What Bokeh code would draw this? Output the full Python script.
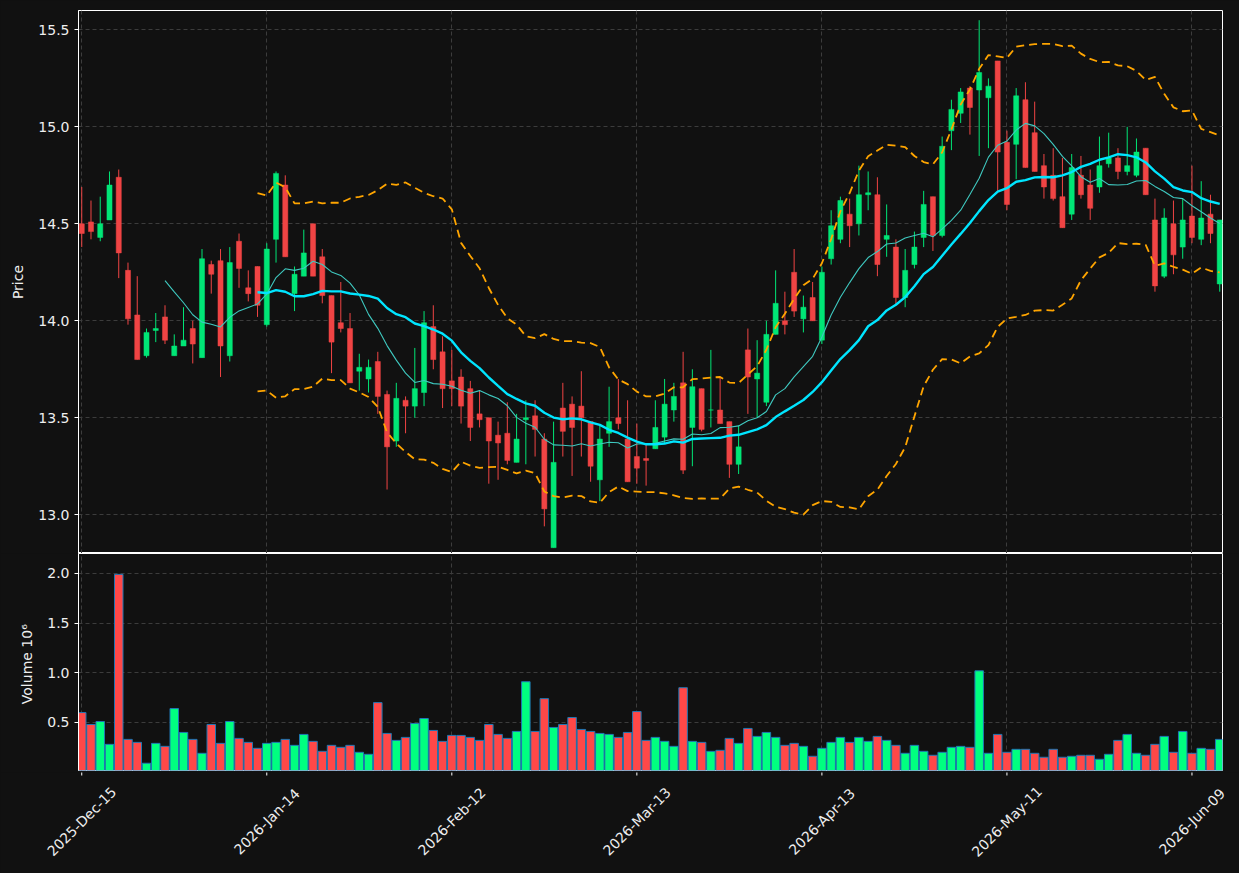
import math
import numpy as np
import pandas as pd
from bokeh.plotting import figure
from bokeh.layouts import column
from bokeh.models import ColumnDataSource, Range1d, FixedTicker, NumeralTickFormatter
from bokeh.core.properties import value
from bokeh.embed import file_html
from bokeh.resources import INLINE

# ---- data ----
tick_labels = ["2025-Dec-15", "2026-Jan-14", "2026-Feb-12", "2026-Mar-13",
               "2026-Apr-13", "2026-May-11", "2026-Jun-09"]
tick_positions = [0, 20, 40, 60, 80, 100, 120]

opens = [14.50, 14.51, 14.43, 14.52, 14.74, 14.26, 14.03, 13.82, 13.95, 14.02,
         13.82, 13.87, 13.96, 13.81, 14.29, 14.31, 13.82, 14.41, 14.17, 14.28,
         13.98, 14.42, 14.70, 14.14, 14.23, 14.50, 14.33, 14.13, 13.99, 13.96,
         13.74, 13.70, 13.79, 13.62, 13.38, 13.59, 13.56, 13.63, 13.97, 13.84,
         13.69, 13.71, 13.65, 13.52, 13.50, 13.41, 13.42, 13.27, 13.49, 13.51,
         13.39, 12.83, 13.55, 13.57, 13.56, 13.48, 13.18, 13.42, 13.50, 13.39,
         13.30, 13.29, 13.34, 13.40, 13.54, 13.68, 13.45, 13.65, 13.54, 13.54,
         13.48, 13.26, 13.85, 13.70, 13.58, 13.93, 14.00, 14.25, 14.01, 14.12,
         13.90, 14.32, 14.42, 14.55, 14.50, 14.65, 14.65, 14.42, 14.38, 14.12,
         14.29, 14.43, 14.64, 14.44, 14.98, 15.07, 15.20, 15.19, 15.15, 15.34,
         14.92, 14.91, 15.14, 14.97, 14.80, 14.75, 14.64, 14.55, 14.75, 14.70,
         14.69, 14.81, 14.84, 14.77, 14.75, 14.89, 14.52, 14.23, 14.50, 14.38,
         14.54, 14.42, 14.55, 14.19]
highs = [14.69, 14.62, 14.64, 14.77, 14.78, 14.30, 14.23, 13.96, 14.04, 14.08,
         13.93, 14.07, 14.00, 14.37, 14.31, 14.37, 14.38, 14.45, 14.26, 14.28,
         14.40, 14.77, 14.75, 14.28, 14.47, 14.50, 14.37, 14.13, 14.20, 14.04,
         13.83, 13.80, 13.84, 13.64, 13.68, 13.61, 13.86, 14.05, 14.08, 13.92,
         13.85, 13.75, 13.69, 13.64, 13.50, 13.48, 13.58, 13.52, 13.59, 13.59,
         13.42, 13.48, 13.68, 13.61, 13.74, 13.48, 13.46, 13.66, 13.70, 13.59,
         13.47, 13.36, 13.59, 13.70, 13.68, 13.84, 13.75, 13.65, 13.85, 13.71,
         13.48, 13.46, 13.96, 13.90, 14.00, 14.26, 14.15, 14.37, 14.13, 14.20,
         14.28, 14.57, 14.64, 14.63, 14.80, 14.77, 14.74, 14.60, 14.42, 14.37,
         14.46, 14.67, 14.64, 14.95, 15.14, 15.20, 15.21, 15.55, 15.25, 15.34,
         14.98, 15.20, 15.23, 15.13, 14.86, 14.89, 14.84, 14.86, 14.85, 14.78,
         14.95, 14.97, 14.89, 15.00, 14.94, 14.89, 14.63, 14.58, 14.62, 14.63,
         14.80, 14.72, 14.65, 14.52]
lows = [14.38, 14.42, 14.41, 14.52, 14.22, 13.98, 13.80, 13.81, 13.89, 13.88,
        13.82, 13.87, 13.78, 13.81, 14.14, 13.71, 13.79, 14.17, 14.10, 14.02,
        13.97, 14.30, 14.33, 14.05, 14.23, 14.23, 14.09, 13.73, 13.94, 13.68,
        13.64, 13.63, 13.52, 13.13, 13.35, 13.42, 13.50, 13.56, 13.75, 13.55,
        13.56, 13.47, 13.38, 13.45, 13.16, 13.18, 13.26, 13.27, 13.26, 13.30,
        12.94, 12.83, 13.30, 13.20, 13.30, 13.17, 13.07, 13.35, 13.44, 13.17,
        13.16, 13.15, 13.34, 13.37, 13.48, 13.21, 13.25, 13.43, 13.45, 13.47,
        13.19, 13.21, 13.52, 13.50, 13.56, 13.93, 13.93, 14.02, 13.94, 14.00,
        13.88, 14.29, 14.40, 14.38, 14.44, 14.57, 14.23, 14.33, 14.08, 14.07,
        14.27, 14.38, 14.36, 14.43, 14.88, 15.02, 14.96, 14.85, 14.89, 14.67,
        14.57, 14.73, 14.79, 14.77, 14.63, 14.62, 14.48, 14.52, 14.63, 14.52,
        14.66, 14.79, 14.73, 14.75, 14.74, 14.65, 14.15, 14.22, 14.24, 14.32,
        14.40, 14.39, 14.40, 14.15]
closes = [14.45, 14.46, 14.50, 14.70, 14.35, 14.01, 13.80, 13.94, 13.96, 13.90,
          13.87, 13.90, 13.88, 14.32, 14.24, 13.87, 14.30, 14.27, 14.14, 14.08,
          14.37, 14.76, 14.33, 14.24, 14.35, 14.23, 14.13, 13.89, 13.96, 13.68,
          13.76, 13.76, 13.61, 13.35, 13.60, 13.56, 13.65, 13.99, 13.80, 13.65,
          13.65, 13.56, 13.45, 13.49, 13.38, 13.37, 13.28, 13.39, 13.50, 13.44,
          13.03, 13.27, 13.43, 13.45, 13.50, 13.25, 13.39, 13.48, 13.47, 13.17,
          13.24, 13.28, 13.45, 13.57, 13.61, 13.23, 13.66, 13.44, 13.54, 13.47,
          13.26, 13.35, 13.71, 13.73, 13.93, 14.09, 13.98, 14.05, 14.07, 14.00,
          14.25, 14.49, 14.62, 14.49, 14.65, 14.66, 14.29, 14.44, 14.12, 14.26,
          14.38, 14.60, 14.44, 14.90, 15.09, 15.18, 15.10, 15.28, 15.21, 14.87,
          14.60, 15.16, 14.79, 14.77, 14.69, 14.63, 14.48, 14.79, 14.65, 14.58,
          14.80, 14.84, 14.77, 14.80, 14.87, 14.65, 14.18, 14.53, 14.34, 14.52,
          14.43, 14.53, 14.45, 14.52]
volume_millions = [0.60, 0.48, 0.51, 0.28, 1.99, 0.33, 0.30, 0.09, 0.29, 0.26,
                   0.64, 0.40, 0.33, 0.19, 0.48, 0.29, 0.51, 0.34, 0.30, 0.24,
                   0.29, 0.30, 0.33, 0.27, 0.38, 0.31, 0.21, 0.27, 0.25, 0.27,
                   0.20, 0.18, 0.70, 0.39, 0.32, 0.35, 0.49, 0.54, 0.42, 0.31,
                   0.37, 0.37, 0.35, 0.32, 0.48, 0.38, 0.34, 0.41, 0.91, 0.41,
                   0.74, 0.45, 0.48, 0.55, 0.43, 0.41, 0.39, 0.38, 0.35, 0.40,
                   0.61, 0.32, 0.35, 0.31, 0.26, 0.85, 0.31, 0.30, 0.21, 0.22,
                   0.34, 0.29, 0.44, 0.36, 0.40, 0.35, 0.27, 0.29, 0.26, 0.16,
                   0.24, 0.30, 0.35, 0.30, 0.35, 0.31, 0.36, 0.32, 0.27, 0.19,
                   0.27, 0.21, 0.17, 0.20, 0.25, 0.26, 0.25, 1.02, 0.19, 0.38,
                   0.20, 0.23, 0.23, 0.19, 0.15, 0.23, 0.15, 0.16, 0.17, 0.17,
                   0.13, 0.18, 0.32, 0.38, 0.19, 0.17, 0.28, 0.36, 0.20, 0.41,
                   0.19, 0.24, 0.23, 0.33]

# ---- styling ----
BG = "#111111"
GRID = "#3c3c3c"
UP_C = "#00e676"
DN_C = "#f04444"
VUP_C = "#00ff80"
VDN_C = "#ff4848"
VEDGE = "#1f77b4"
FONT = "DejaVu Sans"
TXT = "#eeeeee"

W = 1239
LEFT, RIGHT = 78, 17

n = len(closes)
idx = np.arange(n)
df = pd.DataFrame({"x": idx, "o": opens, "h": highs, "l": lows, "c": closes, "v": volume_millions})
df["top"] = df[["o", "c"]].max(axis=1)
df["bot"] = df[["o", "c"]].min(axis=1)
df["up"] = df["c"] >= df["o"]
df["color"] = np.where(df["up"], UP_C, DN_C)
df["vcolor"] = np.where(df["up"], VUP_C, VDN_C)

sma10 = df["c"].rolling(10).mean()
sma20 = df["c"].rolling(20).mean()
std20 = df["c"].rolling(20).std(ddof=0)
bb_up = sma20 + 2 * std20
bb_lo = sma20 - 2 * std20

src = ColumnDataSource(df)
X0, X1 = -0.35, n - 0.7
xr = Range1d(X0, X1)
ppu = (W - LEFT - RIGHT) / (X1 - X0)   # pixels per candle


def style_axis(ax):
    ax.axis_line_color = "white"
    ax.major_tick_line_color = "white"
    ax.minor_tick_line_color = None
    ax.major_tick_in = 0
    ax.major_tick_out = 4
    ax.major_label_text_color = TXT
    ax.major_label_text_font = FONT
    ax.major_label_text_font_size = "14px"
    ax.axis_label_text_color = TXT
    ax.axis_label_text_font = FONT
    ax.axis_label_text_font_size = "14px"
    ax.axis_label_text_font_style = "normal"
    ax.axis_label_standoff = 9


def style(p):
    p.background_fill_color = BG
    p.border_fill_color = BG
    p.outline_line_color = "white"
    p.outline_line_width = 1
    p.grid.grid_line_color = GRID
    p.grid.grid_line_dash = "4 3"
    p.grid.grid_line_width = 1
    for ax in p.axis:
        style_axis(ax)


# ---- price panel ----
p = figure(width=W, height=553, x_range=xr, y_range=Range1d(12.80, 15.60),
           output_backend="svg", toolbar_location=None,
           min_border_left=LEFT, min_border_right=RIGHT, min_border_top=10, min_border_bottom=0)
p.xaxis.visible = False
p.xgrid.ticker = FixedTicker(ticks=tick_positions)
p.yaxis.ticker = FixedTicker(ticks=[13.0, 13.5, 14.0, 14.5, 15.0, 15.5])
p.yaxis.formatter = NumeralTickFormatter(format="0.0")
p.yaxis.axis_label = "Price"
style(p)

p.segment(x0="x", y0="l", x1="x", y1="h", color="color", line_width=1, source=src)
p.vbar(x="x", width=0.55, top="top", bottom="bot", fill_color="color", line_color="color",
       line_width=0.5, source=src)

p.line(idx, sma10, line_color="#3fc9c0", line_width=1.1)
p.line(idx, sma20, line_color="#00e5ff", line_width=2.4)
p.line(idx, bb_up, line_color="#ffa500", line_width=1.8, line_dash="8 5")
p.line(idx, bb_lo, line_color="#ffa500", line_width=1.8, line_dash="8 5")

# ---- volume panel ----
VB = 2
v = figure(width=W, height=217 + VB, x_range=xr, y_range=Range1d(0.017, 2.2),
           output_backend="svg", toolbar_location=None,
           min_border_left=LEFT, min_border_right=RIGHT, min_border_top=0, min_border_bottom=VB)
v.xaxis.visible = False
v.xgrid.ticker = FixedTicker(ticks=tick_positions)
v.yaxis.ticker = FixedTicker(ticks=[0.5, 1.0, 1.5, 2.0])
v.yaxis.formatter = NumeralTickFormatter(format="0.0")
v.yaxis.axis_label = "Volume  10\u2076"
style(v)
v.vbar(x="x", width=0.92, top="v", bottom=0, fill_color="vcolor", line_color=VEDGE,
       line_width=1, source=src)

# ---- date label strip: ticks + rotated labels centred on the ticks ----
LH = 873 - 553 - 217 - VB
lab = figure(width=W, height=LH, output_backend="svg", toolbar_location=None,
             x_axis_type=None, y_axis_type=None,
             x_range=Range1d(X0 - LEFT / ppu, X1 + RIGHT / ppu), y_range=Range1d(0, LH),
             min_border=0, min_border_left=0, min_border_right=0,
             min_border_top=0, min_border_bottom=0)
try:
    lab.frame_align = False
except Exception:
    pass
lab.grid.visible = False
lab.outline_line_color = None
lab.background_fill_color = BG
lab.border_fill_color = BG
lab.segment(x0=tick_positions, x1=tick_positions, y0=[LH + 2] * len(tick_positions),
            y1=[LH - 3] * len(tick_positions), line_color="white", line_width=1)
lab.text(x=tick_positions, y=[LH - 49] * len(tick_positions), text=tick_labels,
         angle=math.pi / 4, text_align="center", text_baseline="middle",
         text_color=TXT, text_font=value(FONT), text_font_size=value("14px"))

layout = column(p, v, lab, spacing=0)
layout.background = BG
open("out.html", "w").write(file_html(layout, INLINE, title="chart"))
